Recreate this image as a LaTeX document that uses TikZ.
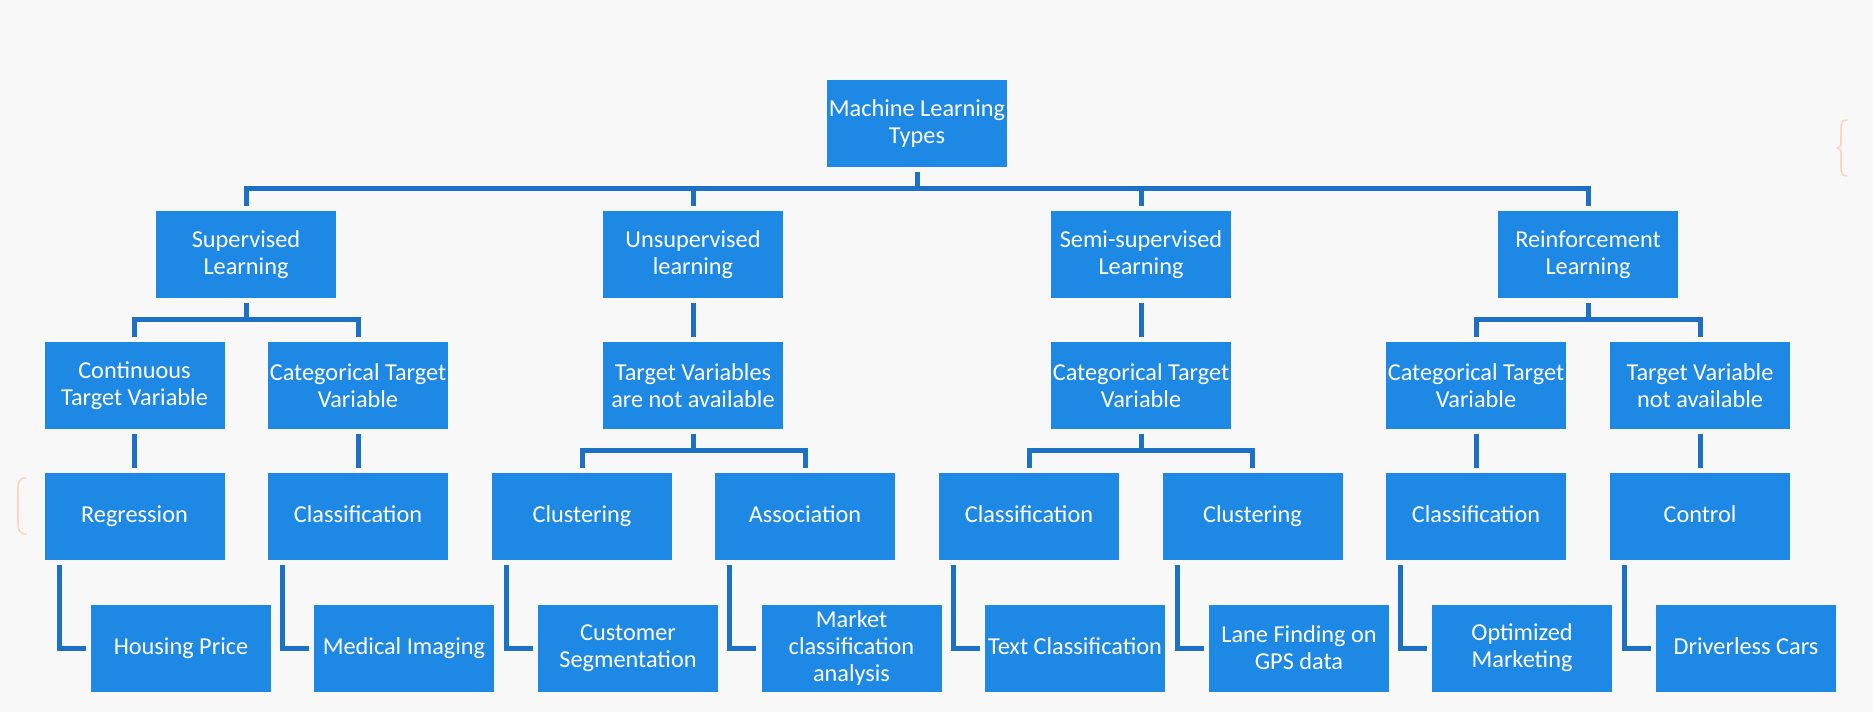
\documentclass[tikz,border=0pt]{standalone}
\usepackage{fontspec}
\setmainfont{Carlito}
\usetikzlibrary{calc}
\definecolor{boxblue}{HTML}{1E88E5}
\definecolor{linkblue}{HTML}{1C70C6}
\definecolor{bgray}{HTML}{F8F8F8}
\definecolor{braceorange}{HTML}{FDD5C2}
\tikzset{
  mlbox/.style={fill=boxblue, draw=none, minimum width=180pt, minimum height=87pt,
    inner sep=0pt, text=white, align=center, font=\fontsize{24.3}{27}\selectfont},
  oneline/.style={text height=17pt, text depth=4.6pt},
  link/.style={draw=linkblue, line width=5pt, line cap=butt, line join=miter},
  bracemark/.style={draw=braceorange, line width=1.6pt, line cap=round, line join=round}
}
\begin{document}
\begin{tikzpicture}[x=1pt,y=-1pt]
\fill[bgray] (0,0) rectangle (1873,712);
\useasboundingbox (0,0) rectangle (1873,712);

% root
\node[mlbox] (ml) at (917,123.5) {Machine Learning\\Types};
% level 1
\node[mlbox] (sup) at (246,254.5) {Supervised\\Learning};
\node[mlbox] (uns) at (693,254.5) {Unsupervised\\learning};
\node[mlbox] (semi) at (1141,254.5) {Semi-supervised\\Learning};
\node[mlbox] (rein) at (1588,254.5) {Reinforcement\\Learning};
% level 2
\node[mlbox] (cont) at (134.5,385.5) {Continuous\\Target Variable};
\node[mlbox] (catS) at (358,385.5) {Categorical Target\\Variable};
\node[mlbox] (tva) at (693,385.5) {Target Variables\\are not available};
\node[mlbox] (catSemi) at (1141,385.5) {Categorical Target\\Variable};
\node[mlbox] (catR) at (1476,385.5) {Categorical Target\\Variable};
\node[mlbox] (tvna) at (1700,385.5) {Target Variable\\not available};
% level 3
\node[mlbox,oneline] (reg) at (134.5,516.5) {Regression};
\node[mlbox,oneline] (clsS) at (358,516.5) {Classification};
\node[mlbox,oneline] (clu) at (582,516.5) {Clustering};
\node[mlbox,oneline] (asso) at (805,516.5) {Association};
\node[mlbox,oneline] (clsSemi) at (1029,516.5) {Classification};
\node[mlbox,oneline] (cluSemi) at (1252.5,516.5) {Clustering};
\node[mlbox,oneline] (clsR) at (1476,516.5) {Classification};
\node[mlbox,oneline] (ctrl) at (1700,516.5) {Control};
% level 4
\node[mlbox,oneline] (hp) at (181,648) {Housing Price};
\node[mlbox,oneline] (mi) at (404,648) {Medical Imaging};
\node[mlbox] (cs) at (628,648) {Customer\\Segmentation};
\node[mlbox] (ma) at (851.5,648) {Market\\classification\\analysis};
\node[mlbox,oneline] (tc) at (1075,648) {Text Classification};
\node[mlbox] (lf) at (1299,648) {Lane Finding on\\GPS data};
\node[mlbox] (om) at (1522,648) {Optimized\\Marketing};
\node[mlbox,oneline] (dc) at (1746,648) {Driverless Cars};

% root to level 1
\draw[link] ([yshift=-5pt]ml.south) -- ++(0,17);
\draw[link] ([yshift=5pt]sup.north) -- ++(0,-17) -| ([yshift=5pt]rein.north);
\draw[link] ([yshift=5pt]uns.north) -- ++(0,-17);
\draw[link] ([yshift=5pt]semi.north) -- ++(0,-17);

% level 1 to level 2
\draw[link] ([yshift=-5pt]sup.south) -- ++(0,17);
\draw[link] ([yshift=5pt]cont.north) -- ++(0,-17) -| ([yshift=5pt]catS.north);
\draw[link] ([yshift=-5pt]uns.south) -- ([yshift=5pt]tva.north);
\draw[link] ([yshift=-5pt]semi.south) -- ([yshift=5pt]catSemi.north);
\draw[link] ([yshift=-5pt]rein.south) -- ++(0,17);
\draw[link] ([yshift=5pt]catR.north) -- ++(0,-17) -| ([yshift=5pt]tvna.north);

% level 2 to level 3
\draw[link] ([yshift=-5pt]cont.south) -- ([yshift=5pt]reg.north);
\draw[link] ([yshift=-5pt]catS.south) -- ([yshift=5pt]clsS.north);
\draw[link] ([yshift=-5pt]tva.south) -- ++(0,17);
\draw[link] ([yshift=5pt]clu.north) -- ++(0,-17) -| ([yshift=5pt]asso.north);
\draw[link] ([yshift=-5pt]catSemi.south) -- ++(0,17);
\draw[link] ([yshift=5pt]clsSemi.north) -- ++(0,-17) -| ([yshift=5pt]cluSemi.north);
\draw[link] ([yshift=-5pt]catR.south) -- ([yshift=5pt]clsR.north);
\draw[link] ([yshift=-5pt]tvna.south) -- ([yshift=5pt]ctrl.north);

% level 3 to level 4 (elbows)
\foreach \p/\c in {reg/hp, clsS/mi, clu/cs, asso/ma, clsSemi/tc, cluSemi/lf, clsR/om, ctrl/dc}{
  \draw[link] ([xshift=15pt,yshift=-5pt]\p.south west) |- ([xshift=-5pt]\c.west);
}

% faint orange brace marks
\draw[bracemark] (1847,120) .. controls (1841,120) and (1841,124) .. (1841,130)
  -- (1841,142) .. controls (1841,146) .. (1837,148)
  .. controls (1841,150) .. (1841,154) -- (1841,166)
  .. controls (1841,172) and (1841,176) .. (1847,176);
\draw[bracemark] (26,478) .. controls (19,478) and (18,482) .. (18,490)
  -- (18,522) .. controls (18,530) and (19,534) .. (26,534);
\end{tikzpicture}
\end{document}
